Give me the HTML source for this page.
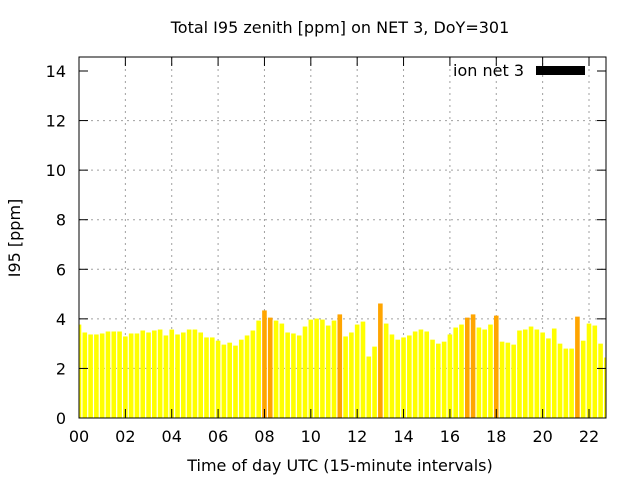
<!DOCTYPE html>
<html><head><meta charset="utf-8"><style>
body{margin:0;background:#fff;}
svg text{font-family:"DejaVu Sans","Liberation Sans",sans-serif;fill:#000;}
</style></head><body>
<svg id="chart" width="640" height="480" viewBox="0 0 640 480" xmlns="http://www.w3.org/2000/svg">
<rect width="640" height="480" fill="#fff"/>
<text x="340" y="33" font-size="16" text-anchor="middle">Total I95 zenith [ppm] on NET 3, DoY=301</text>
<text x="340" y="471" font-size="16" text-anchor="middle">Time of day UTC (15-minute intervals)</text>
<text transform="translate(20,238) rotate(-90)" font-size="16" text-anchor="middle">I95 [ppm]</text>
<g id="grid"></g>
<g id="bars"></g>
<g id="ticks"></g>
<rect x="79" y="57" width="527" height="361" fill="none" stroke="#000" stroke-width="1"/>
<g>
<text x="524" y="76" font-size="16" text-anchor="end">ion net 3</text>
<rect x="536" y="66" width="49" height="9" fill="#000"/>
</g>
</svg>
<script>
const values = [3.77,3.45,3.37,3.37,3.41,3.49,3.49,3.49,3.29,3.41,3.41,3.53,3.45,3.53,3.57,3.33,3.57,3.37,3.45,3.57,3.57,3.45,3.25,3.25,3.12,2.96,3.04,2.92,3.16,3.33,3.53,3.93,4.34,4.05,3.93,3.81,3.45,3.41,3.33,3.69,3.97,4.01,3.97,3.73,3.93,4.18,3.29,3.45,3.77,3.89,2.48,2.88,4.62,3.81,3.37,3.16,3.25,3.33,3.49,3.57,3.49,3.16,3.00,3.08,3.37,3.65,3.77,4.05,4.18,3.65,3.57,3.77,4.13,3.08,3.04,2.96,3.53,3.57,3.69,3.57,3.45,3.21,3.61,3.00,2.80,2.80,4.09,3.12,3.81,3.73,3.00,2.44];
const xTicks = [0,2,4,6,8,10,12,14,16,18,20,22];
const xTickLabels = ["00","02","04","06","08","10","12","14","16","18","20","22"];
const yTicks = [0,2,4,6,8,10,12,14];
const L=79,R=606,T=57,B=418;
const xs = h => L + h*(510/22);
const ys = v => B - v*((B-71)/14);
const NS="http://www.w3.org/2000/svg";
function mk(tag,attrs,parent){const e=document.createElementNS(NS,tag);for(const k in attrs)e.setAttribute(k,attrs[k]);parent.appendChild(e);return e;}
const grid=document.getElementById('grid'),bars=document.getElementById('bars'),ticks=document.getElementById('ticks');
yTicks.forEach(v=>{
  const y=ys(v);
  if(v>0&&v<14){const g=mk('line',{x1:L,x2:R,y1:y,y2:y,stroke:'#a0a0a0','stroke-dasharray':'2,4'},grid);
  
  }
  mk('line',{x1:L,x2:L+9,y1:y,y2:y,stroke:'#000'},ticks);
  mk('line',{x1:R,x2:R-9,y1:y,y2:y,stroke:'#000'},ticks);
  const t=mk('text',{x:L-13,y:y+6,'font-size':16,'text-anchor':'end'},ticks);t.textContent=v;
  
  
});
xTicks.forEach((h,i)=>{
  const x=xs(h);
  if(h>0){const g=mk('line',{x1:x,x2:x,y1:T,y2:B,stroke:'#a0a0a0','stroke-dasharray':'2,4'},grid);
  
  }
  mk('line',{x1:x,x2:x,y1:B,y2:B-9,stroke:'#000'},ticks);
  mk('line',{x1:x,x2:x,y1:T,y2:T+9,stroke:'#000'},ticks);
  const t=mk('text',{x:x,y:B+24,'font-size':16,'text-anchor':'middle'},ticks);t.textContent=xTickLabels[i];
  
  
});
const bw=4.6;
values.forEach((v,i)=>{
  const cx=xs(i*0.25);
  let x0=Math.max(L,cx-bw/2),x1=Math.min(R,cx+bw/2);
  const r=mk('rect',{x:x0,y:ys(v),width:x1-x0,height:B-ys(v),fill:v>4.03?'#ffa500':'#ffff00'},bars);
  
  
});
</script>
</body></html>
